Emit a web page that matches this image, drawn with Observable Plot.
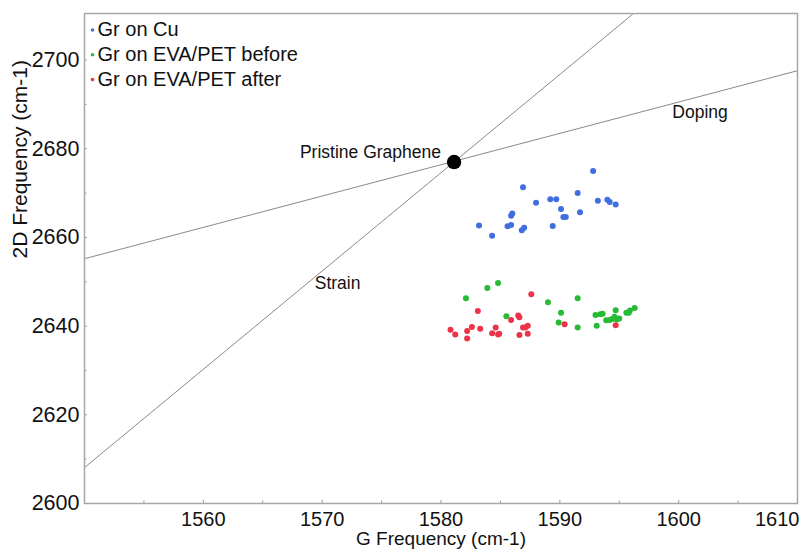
<!DOCTYPE html>
<html>
<head>
<meta charset="utf-8">
<script src="https://cdn.jsdelivr.net/npm/d3@7"></script>
<script src="https://cdn.jsdelivr.net/npm/@observablehq/plot@0.6"></script>
<style>
  html, body { margin: 0; padding: 0; background: #fff; }
  #chart { width: 802px; height: 549px; }
  svg { font-family: "Liberation Sans", Arial, sans-serif; }
</style>
</head>
<body>
<div id="chart"></div>
<script>
// ---- data ----
const seriesNames = ["Gr on Cu", "Gr on EVA/PET before", "Gr on EVA/PET after"];
const seriesColors = ["#3f6fde", "#26bb33", "#ec3348"];

const cuG = [1592.8, 1586.9, 1591.5, 1588.0, 1589.2, 1589.7, 1593.2, 1594.0, 1594.2, 1594.7, 1590.1, 1591.7, 1586.0, 1585.9, 1590.3, 1590.5, 1583.2, 1585.6, 1585.9, 1589.4, 1587.0, 1586.8, 1584.3];
const cuD = [2675.0, 2671.3, 2670.0, 2667.8, 2668.6, 2668.6, 2668.3, 2668.5, 2668.0, 2667.4, 2666.4, 2665.7, 2665.4, 2664.9, 2664.6, 2664.6, 2662.7, 2662.5, 2662.8, 2662.6, 2662.2, 2661.6, 2660.4];

const beforeG = [1582.1, 1583.9, 1584.8, 1585.5, 1589.0, 1591.5, 1590.1, 1589.9, 1591.5, 1593.0, 1593.4, 1593.6, 1593.1, 1593.9, 1594.2, 1594.4, 1594.6, 1594.7, 1594.8, 1595.0, 1595.6, 1595.8, 1595.9, 1596.3];
const beforeD = [2646.3, 2648.6, 2649.7, 2642.2, 2645.4, 2646.3, 2643.0, 2640.8, 2639.7, 2642.5, 2642.7, 2642.8, 2640.1, 2641.3, 2641.4, 2641.6, 2642.1, 2643.6, 2641.5, 2641.7, 2643.0, 2643.0, 2643.5, 2644.1];

const afterG = [1580.8, 1581.2, 1582.2, 1582.2, 1582.6, 1583.1, 1583.3, 1584.3, 1584.6, 1584.8, 1584.9, 1585.9, 1586.5, 1586.6, 1587.6, 1586.9, 1587.1, 1587.3, 1586.6, 1587.3, 1590.4, 1594.7];
const afterD = [2639.2, 2638.1, 2638.9, 2637.2, 2639.8, 2643.4, 2639.4, 2638.4, 2639.7, 2638.1, 2638.3, 2641.4, 2642.4, 2642.0, 2647.2, 2639.7, 2639.7, 2640.1, 2638.0, 2638.3, 2640.4, 2640.2];

const pristine = [{g: 1581.1, d: 2677.0}];
const dopingLine = [{g: 1550, d: 2655.2}, {g: 1610, d: 2697.6}];
const strainLine = [{g: 1550, d: 2608.1}, {g: 1596.2, d: 2710.5}];

const xTicks = [1560, 1570, 1580, 1590, 1600, 1610];
const xMinor = [1555, 1565, 1575, 1585, 1595, 1605];
const yTicks = [2600, 2620, 2640, 2660, 2680, 2700];
const yMinor = [2610, 2630, 2650, 2670, 2690];

const labelPristine = [{text: "Pristine Graphene", g: 1580.0, d: 2679.1}];
const labelLines = [
  {text: "Doping", g: 1601.8, d: 2688.3},
  {text: "Strain", g: 1571.3, d: 2649.7}
];

// ---- build rows ----
function rows(gs, ds, s) { return gs.map((g, i) => ({g, d: ds[i], s})); }
const points = [
  ...rows(cuG, cuD, seriesNames[0]),
  ...rows(beforeG, beforeD, seriesNames[1]),
  ...rows(afterG, afterD, seriesNames[2])
];

const legendMarks = seriesNames.flatMap((name, i) => [
  Plot.dot([name], {frameAnchor: "top-left", dx: 8, dy: 16.5 + 24.8 * i, r: 1.8, fill: seriesColors[i], stroke: "none"}),
  Plot.text([name], {frameAnchor: "top-left", lineAnchor: "middle", dx: 13, dy: 16.5 + 24.8 * i, text: d => d, textAnchor: "start", fontSize: 20, fill: "#111"})
]);

const fmt = d3.format("d");
const xMain = xTicks.slice(0, -1);
const xLast = xTicks.slice(-1);

const chart = Plot.plot({
  width: 802,
  height: 549,
  marginLeft: 84,
  marginRight: 5,
  marginTop: 13,
  marginBottom: 46,
  style: {fontFamily: "'Liberation Sans', Arial, sans-serif", fontSize: "20px", color: "#111", background: "#fff"},
  x: {domain: [1550, 1610], label: null},
  y: {domain: [2600, 2710.5], label: null},
  color: {domain: seriesNames, range: seriesColors},
  marks: [
    Plot.line(dopingLine, {x: "g", y: "d", stroke: "#8a8a8a", strokeWidth: 1, clip: true}),
    Plot.line(strainLine, {x: "g", y: "d", stroke: "#8a8a8a", strokeWidth: 1, clip: true}),
    Plot.axisX(xMain, {anchor: "bottom", tickSize: -3, tickPadding: 11, tickFormat: fmt, fontSize: 20, stroke: "#999", label: null}),
    Plot.axisX(xLast, {anchor: "bottom", tickSize: 0, tickPadding: 8, tickFormat: fmt, textAnchor: "end", dx: 2, fontSize: 20, label: null}),
    Plot.axisX(xMinor, {anchor: "bottom", tickSize: -2.5, tickFormat: () => "", stroke: "#999", label: null}),
    Plot.axisY(yTicks, {anchor: "left", tickSize: -3, tickPadding: 8, tickFormat: fmt, fontSize: 21.5, stroke: "#999", label: null}),
    Plot.axisY(yMinor, {anchor: "left", tickSize: -2.5, tickFormat: () => "", stroke: "#999", label: null}),
    Plot.frame({stroke: "#a6a6a6", strokeWidth: 1.5}),
    Plot.dot(points, {x: "g", y: "d", fill: "s", r: 3, stroke: "none"}),
    Plot.dot(pristine, {x: "g", y: "d", r: 7.2, fill: "#000"}),
    Plot.text(labelPristine, {x: "g", y: "d", text: "text", textAnchor: "end", fontSize: 17.5, fill: "#111"}),
    Plot.text(labelLines, {x: "g", y: "d", text: "text", textAnchor: "middle", fontSize: 17.5, fill: "#111"}),
    Plot.text(["2D Frequency (cm-1)"], {frameAnchor: "left", lineAnchor: "middle", text: d => d, rotate: -90, dx: -64, fontSize: 21, fill: "#111"}),
    Plot.text(["G Frequency (cm-1)"], {frameAnchor: "bottom", lineAnchor: "middle", text: d => d, dy: 35.5, fontSize: 19, fill: "#111"}),
    ...legendMarks
  ]
});
document.getElementById("chart").appendChild(chart);
</script>
</body>
</html>
